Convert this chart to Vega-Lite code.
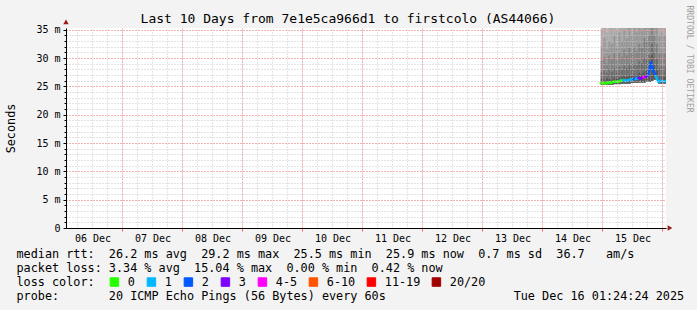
{
  "$schema": "https://vega.github.io/schema/vega-lite/v6.json",
  "width": 600,
  "height": 200,
  "autosize": {"type": "none"},
  "padding": {"left": 66, "top": 28, "right": 31, "bottom": 82},
  "background": "#f3f3f3",
  "config": {
    "view": {"fill": "white", "stroke": null},
    "font": "DejaVu Sans Mono",
    "axis": {"labelFont": "DejaVu Sans Mono", "titleFont": "DejaVu Sans Mono", "labelColor": "#000000", "titleColor": "#000000", "titleFontWeight": "normal"}
  },
  "title": {
    "text": "Last 10 Days from 7e1e5ca966d1 to firstcolo (AS44066)",
    "font": "DejaVu Sans Mono",
    "fontSize": 13,
    "fontWeight": "normal",
    "color": "#000000",
    "anchor": "middle",
    "dx": -18,
    "offset": -21
  },
  "data": {
    "format": {"parse": {"t": "date"}},
    "values": [
      {"t": "2025-12-14T23:20:00", "median": 25.6, "loss": "0", "lo": 25.3, "u6": 26.3, "u5": 27.5, "u4": 29.5, "u3": 32.0, "u2": 35.0, "u1": 42},
      {"t": "2025-12-15T00:20:00", "median": 25.6, "loss": "0", "lo": 25.3, "u6": 26.2, "u5": 27.8, "u4": 30.2, "u3": 33.5, "u2": 36.5, "u1": 44},
      {"t": "2025-12-15T01:20:00", "median": 25.5, "loss": "0", "lo": 25.3, "u6": 26.4, "u5": 27.4, "u4": 29.0, "u3": 31.5, "u2": 34.5, "u1": 41},
      {"t": "2025-12-15T02:20:00", "median": 25.7, "loss": "0", "lo": 25.3, "u6": 26.3, "u5": 28.0, "u4": 30.5, "u3": 33.0, "u2": 37.0, "u1": 45},
      {"t": "2025-12-15T03:20:00", "median": 25.6, "loss": "0", "lo": 25.3, "u6": 26.2, "u5": 27.6, "u4": 29.8, "u3": 32.5, "u2": 35.5, "u1": 43},
      {"t": "2025-12-15T04:20:00", "median": 25.8, "loss": "0", "lo": 25.4, "u6": 26.5, "u5": 28.2, "u4": 30.8, "u3": 34.0, "u2": 38.0, "u1": 46},
      {"t": "2025-12-15T05:20:00", "median": 25.8, "loss": "0", "lo": 25.4, "u6": 26.4, "u5": 27.7, "u4": 29.6, "u3": 32.0, "u2": 35.0, "u1": 42},
      {"t": "2025-12-15T06:20:00", "median": 25.8, "loss": "0", "lo": 25.4, "u6": 26.6, "u5": 28.4, "u4": 31.0, "u3": 34.5, "u2": 39.0, "u1": 47},
      {"t": "2025-12-15T07:20:00", "median": 26.0, "loss": "0", "lo": 25.5, "u6": 26.7, "u5": 28.0, "u4": 30.2, "u3": 33.0, "u2": 36.0, "u1": 44},
      {"t": "2025-12-15T08:20:00", "median": 26.1, "loss": "1", "lo": 25.5, "u6": 26.8, "u5": 28.6, "u4": 31.5, "u3": 35.0, "u2": 40.0, "u1": 48},
      {"t": "2025-12-15T09:20:00", "median": 26.0, "loss": "1", "lo": 25.5, "u6": 26.7, "u5": 28.2, "u4": 30.5, "u3": 33.5, "u2": 37.0, "u1": 45},
      {"t": "2025-12-15T10:20:00", "median": 26.1, "loss": "1", "lo": 25.5, "u6": 26.9, "u5": 28.8, "u4": 31.8, "u3": 35.5, "u2": 41.0, "u1": 50},
      {"t": "2025-12-15T11:20:00", "median": 26.2, "loss": "1", "lo": 25.6, "u6": 27.0, "u5": 28.5, "u4": 31.0, "u3": 34.0, "u2": 38.0, "u1": 46},
      {"t": "2025-12-15T12:20:00", "median": 26.3, "loss": "2", "lo": 25.6, "u6": 27.1, "u5": 29.0, "u4": 32.0, "u3": 36.0, "u2": 42.0, "u1": 52},
      {"t": "2025-12-15T13:20:00", "median": 26.3, "loss": "1", "lo": 25.6, "u6": 27.0, "u5": 28.7, "u4": 31.2, "u3": 34.5, "u2": 39.0, "u1": 48},
      {"t": "2025-12-15T14:20:00", "median": 26.5, "loss": "3", "lo": 25.7, "u6": 27.4, "u5": 29.5, "u4": 32.5, "u3": 36.5, "u2": 43.0, "u1": 55},
      {"t": "2025-12-15T15:20:00", "median": 26.4, "loss": "3", "lo": 25.7, "u6": 27.2, "u5": 29.0, "u4": 31.8, "u3": 35.0, "u2": 40.0, "u1": 50},
      {"t": "2025-12-15T16:20:00", "median": 26.6, "loss": "4-5", "lo": 25.7, "u6": 27.6, "u5": 30.0, "u4": 33.5, "u3": 37.5, "u2": 45.0, "u1": 58},
      {"t": "2025-12-15T17:20:00", "median": 26.7, "loss": "3", "lo": 25.8, "u6": 27.7, "u5": 29.8, "u4": 33.0, "u3": 37.0, "u2": 44.0, "u1": 56},
      {"t": "2025-12-15T18:20:00", "median": 27.0, "loss": "2", "lo": 25.8, "u6": 28.0, "u5": 30.5, "u4": 34.0, "u3": 38.5, "u2": 46.0, "u1": 60},
      {"t": "2025-12-15T19:20:00", "median": 29.2, "loss": "2", "lo": 26.0, "u6": 30.5, "u5": 32.5, "u4": 35.5, "u3": 40.0, "u2": 48.0, "u1": 62},
      {"t": "2025-12-15T20:20:00", "median": 27.8, "loss": "2", "lo": 26.2, "u6": 28.8, "u5": 31.0, "u4": 34.0, "u3": 38.0, "u2": 45.0, "u1": 58},
      {"t": "2025-12-15T21:20:00", "median": 26.8, "loss": "1", "lo": 26.3, "u6": 27.8, "u5": 29.8, "u4": 32.5, "u3": 36.0, "u2": 42.0, "u1": 52},
      {"t": "2025-12-15T22:20:00", "median": 25.8, "loss": "1", "lo": 25.5, "u6": 26.6, "u5": 28.2, "u4": 30.8, "u3": 34.0, "u2": 38.0, "u1": 46},
      {"t": "2025-12-15T23:20:00", "median": 26.0, "loss": "1", "lo": 25.5, "u6": 26.8, "u5": 28.6, "u4": 31.2, "u3": 34.5, "u2": 39.0, "u1": 48},
      {"t": "2025-12-16T00:20:00", "median": 25.9, "loss": "1", "lo": 25.5, "u6": 26.7, "u5": 28.3, "u4": 30.8, "u3": 34.0, "u2": 38.0, "u1": 46},
      {"t": "2025-12-16T01:24:24", "median": 25.9, "loss": "1"}
    ]
  },
  "layer": [
    {
      "transform": [
        {"window": [{"op": "lead", "field": "t", "as": "t2"}], "sort": [{"field": "t", "order": "ascending"}]},
        {"filter": "isValid(datum.t2)"},
        {"fold": ["u1", "u2", "u3", "u4", "u5", "u6"], "as": ["band", "top"]}
      ],
      "mark": {"type": "rect", "clip": true},
      "encoding": {
        "x": {
          "field": "t", "type": "temporal",
          "scale": {"domain": [{"year": 2025, "month": 12, "date": 6, "hours": 1, "minutes": 24, "seconds": 24}, {"year": 2025, "month": 12, "date": 16, "hours": 1, "minutes": 24, "seconds": 24}]},
          "axis": {"orient": "top", "tickCount": 40, "grid": true, "gridColor": "#c8c8c8", "gridDash": [1, 2], "labels": false, "ticks": false, "domain": false, "zindex": 1,
            "title": "RRDTOOL / TOBI OETIKER", "titleFontSize": 8.1, "titleColor": "#a0a0a0", "titleAngle": 90, "titleX": 622, "titleY": -23, "titleAlign": "left", "titleBaseline": "middle"}
        },
        "x2": {"field": "t2"},
        "y": {
          "field": "top", "type": "quantitative",
          "scale": {"domain": [0, 35.3], "nice": false, "zero": false},
          "axis": {"orient": "left", "tickCount": 35, "grid": true, "gridColor": "#c8c8c8", "gridDash": [1, 2], "labels": false, "ticks": true, "tickSize": 2, "tickColor": "#000000", "domain": false, "title": null, "zindex": 1}
        },
        "y2": {"field": "lo"},
        "fill": {
          "field": "band", "type": "nominal",
          "scale": {"domain": ["u1", "u2", "u3", "u4", "u5", "u6"], "range": ["#bdbdbd", "#aaaaaa", "#979797", "#828282", "#6d6d6d", "#575757"]},
          "legend": null
        }
      }
    },
    {
      "transform": [
        {"window": [{"op": "lead", "field": "t", "as": "t2"}, {"op": "lead", "field": "median", "as": "m2"}], "sort": [{"field": "t", "order": "ascending"}]},
        {"filter": "isValid(datum.t2)"}
      ],
      "mark": {"type": "rule", "strokeWidth": 2.5, "strokeCap": "round", "clip": true},
      "encoding": {
        "x": {
          "field": "t", "type": "temporal",
          "axis": {"orient": "bottom", "tickCount": 10, "grid": true, "gridColor": "#ff8080", "gridDash": [1, 2],
            "labels": true, "labelExpr": "timeFormat(datum.value - 43200000, '%d %b')", "labelOffset": -30, "labelFlush": false, "labelBound": false, "labelOverlap": false,
            "labelFontSize": 10, "labelPadding": 2,
            "ticks": true, "tickSize": 3, "tickColor": "#ff6060", "domain": true, "domainColor": "#000000", "zindex": 1,
            "title": [
              "median rtt:\u00a0\u00a026.2 ms avg\u00a0\u00a029.2 ms max\u00a0\u00a025.5 ms min\u00a0\u00a025.9 ms now\u00a0\u00a00.7 ms sd\u00a0\u00a036.7\u00a0\u00a0\u00a0am/s",
              "packet loss: 3.34 % avg\u00a0\u00a015.04 % max\u00a0\u00a00.00 % min\u00a0\u00a00.42 % now",
              "loss color:",
              "probe:\u00a0\u00a0\u00a0\u00a0\u00a0\u00a0\u00a020 ICMP Echo Pings (56 Bytes) every 60s\u00a0\u00a0\u00a0\u00a0\u00a0\u00a0\u00a0\u00a0\u00a0\u00a0\u00a0\u00a0\u00a0\u00a0\u00a0\u00a0\u00a0\u00a0Tue Dec 16 01:24:24 2025"
            ],
            "titleFontSize": 11.8, "titleAlign": "left", "titleBaseline": "top",
            "titleX": -50, "titleY": 20, "titleLineHeight": 14}
        },
        "x2": {"field": "t2"},
        "y": {
          "field": "median", "type": "quantitative",
          "axis": {"orient": "left", "values": [0, 5, 10, 15, 20, 25, 30, 35], "grid": true, "gridColor": "#ff8080", "gridDash": [1, 2], "labels": true, "labelExpr": "datum.value == 0 ? '0' : datum.value + ' m'", "labelFontSize": 10,
            "labelPadding": 3,
            "ticks": true, "tickSize": 3, "tickColor": "#000000", "domain": true, "domainColor": "#000000", "title": "Seconds", "titleFontSize": 11.8, "titleX": -56, "titleY": 100, "titleAngle": -90, "titleAlign": "center", "titleBaseline": "middle", "zindex": 1}
        },
        "y2": {"field": "m2"},
        "color": {
          "field": "loss", "type": "nominal",
          "scale": {"domain": ["0", "1", "2", "3", "4-5", "6-10", "11-19", "20/20"], "range": ["#26ff00", "#00b8ff", "#0059ff", "#7e00ff", "#ff00ff", "#ff5500", "#ff0000", "#a10000"]},
          "legend": {
            "title": null, "orient": "none", "legendX": 42.5, "legendY": 248,
            "direction": "horizontal", "columns": 8,
            "labelFont": "DejaVu Sans Mono", "labelFontSize": 11.8, "labelColor": "#000000", "labelOffset": 7.5, "columnPadding": 9,
            "symbolType": "square", "symbolSize": 72, "symbolStrokeColor": "#000000", "symbolStrokeWidth": 1,
            "encode": {"symbols": {"update": {"fill": {"scale": "color", "field": "value"}, "fillOpacity": {"value": 1}, "stroke": {"value": "#000000"}, "strokeWidth": {"value": 1}}}}
          }
        }
      }
    },
    {
      "data": {"values": [{}]},
      "mark": {"type": "point", "shape": "triangle-right", "filled": true, "size": 30, "color": "#9b1c1c", "opacity": 1},
      "encoding": {
        "x": {"datum": {"year": 2025, "month": 12, "date": 16, "hours": 3, "minutes": 0}, "type": "temporal", "axis": null},
        "y": {"datum": 0, "type": "quantitative", "axis": null}
      }
    },
    {
      "data": {"values": [{}]},
      "mark": {"type": "point", "shape": "triangle-up", "filled": true, "size": 30, "color": "#9b1c1c", "opacity": 1},
      "encoding": {
        "x": {"datum": {"year": 2025, "month": 12, "date": 6, "hours": 1, "minutes": 24, "seconds": 24}, "type": "temporal", "axis": null},
        "y": {"datum": 36.4, "type": "quantitative", "axis": null}
      }
    }
  ],
  "resolve": {"axis": {"x": "independent", "y": "independent"}}
}
